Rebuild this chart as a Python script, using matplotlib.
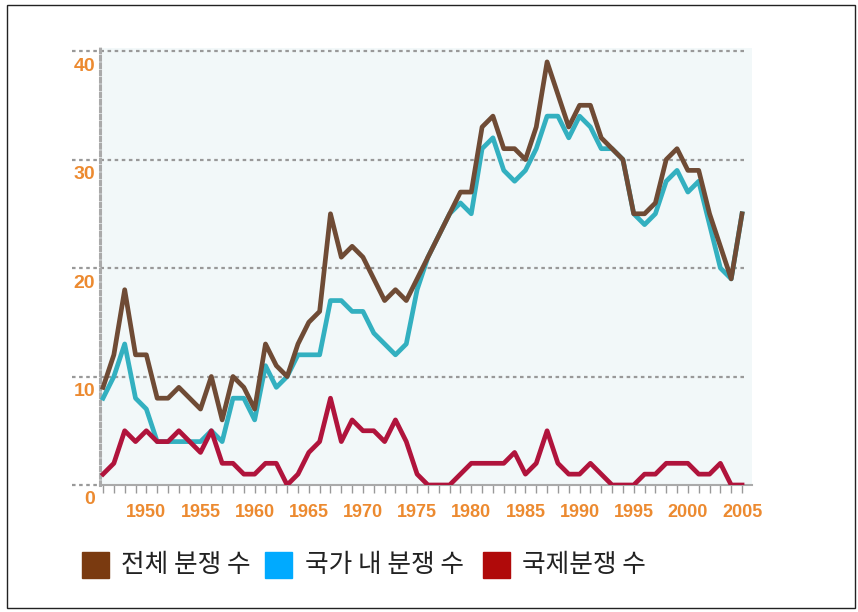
import matplotlib
matplotlib.use("Agg")
import matplotlib.pyplot as plt
from matplotlib.patches import Rectangle
from matplotlib.transforms import blended_transform_factory, ScaledTranslation

plt.rcParams['font.family'] = ['Liberation Sans', 'Noto Sans CJK KR', 'DejaVu Sans']

years = list(range(1946, 2006))
total = [9, 12, 18, 12, 12, 8, 8, 9, 8, 7,
         10, 6, 10, 9, 7, 13, 11, 10, 13, 15,
         16, 25, 21, 22, 21, 19, 17, 18, 17, 19,
         21, 23, 25, 27, 27, 33, 34, 31, 31, 30,
         33, 39, 36, 33, 35, 35, 32, 31, 30, 25,
         25, 26, 30, 31, 29, 29, 25, 22, 19, 25]
internal = [8, 10, 13, 8, 7, 4, 4, 4, 4, 4,
            5, 4, 8, 8, 6, 11, 9, 10, 12, 12,
            12, 17, 17, 16, 16, 14, 13, 12, 13, 18,
            21, 23, 25, 26, 25, 31, 32, 29, 28, 29,
            31, 34, 34, 32, 34, 33, 31, 31, 30, 25,
            24, 25, 28, 29, 27, 28, 24, 20, 19, 25]
international = [1, 2, 5, 4, 5, 4, 4, 5, 4, 3,
                 5, 2, 2, 1, 1, 2, 2, 0, 1, 3,
                 4, 8, 4, 6, 5, 5, 4, 6, 4, 1,
                 0, 0, 0, 1, 2, 2, 2, 2, 3, 1,
                 2, 5, 2, 1, 1, 2, 1, 0, 0, 0,
                 1, 1, 2, 2, 2, 1, 1, 2, 0, 0]
ytick_vals = [0, 10, 20, 30, 40]
legend_labels = ['전체 분쟁 수', '국가 내 분쟁 수', '국제분쟁 수']

W, H = 858, 612
fig = plt.figure(figsize=(W / 100, H / 100), dpi=100)
ax = fig.add_axes([100 / W, 127 / H, 652 / W, 437 / H])
ax.set_facecolor('#f2f8f9')
ax.set_xlim(1945.72, 2005.92)
ax.set_ylim(0, 40.28)

line_colors = ['#6f4b35', '#33b0c0', '#b0143c']
ax.plot(years, internal, color=line_colors[1], lw=3.4, zorder=3)
ax.plot(years, total, color=line_colors[0], lw=3.4, zorder=4)
ax.plot(years, international, color=line_colors[2], lw=3.4, zorder=5)

# grid lines (extend left beyond axes)
bt = blended_transform_factory(ax.transAxes, ax.transData)
for v in ytick_vals[1:]:
    ax.plot([-0.043, 0.99], [v, v], transform=bt,
            color='#999999', lw=1.6, ls=(0, (1.6, 1.6)), clip_on=False, zorder=2)
ax.plot([-0.043, 0.0], [0, 0], transform=bt,
        color='#999999', lw=1.6, ls=(0, (1.6, 1.6)), clip_on=False, zorder=2)

for s in ['top', 'right']:
    ax.spines[s].set_visible(False)
ax.spines['left'].set_color('#aaaaaa')
ax.spines['left'].set_linestyle((0, (1.2, 1.2)))
ax.spines['left'].set_linewidth(2.2)
ax.spines['bottom'].set_color('#aaaaaa')
ax.spines['bottom'].set_linewidth(1.5)

ax.set_xticks(years)
ax.set_xticklabels([str(y) if y % 5 == 0 else '' for y in years])
ax.tick_params(axis='x', direction='out', length=5.5, width=1, color='#999999',
               labelsize=13, labelcolor='#ec8a30', pad=8)
for t in ax.get_xticklabels():
    t.set_fontweight('bold')
ax.set_yticks([])

tr = bt + ScaledTranslation(-0.05, -0.15, fig.dpi_scale_trans)
for v in ytick_vals:
    ax.text(0, v, str(v), transform=tr, ha='right', va='center', fontsize=14,
            fontweight='bold', color='#ec8a30')

# legend
legend_colors = ['#7a3a10', '#00aaff', '#b00a0a']
patch_x = [82, 265, 483]
text_x = [121, 305, 522]
for px, tx, c, lab in zip(patch_x, text_x, legend_colors, legend_labels):
    fig.patches.append(Rectangle((px / W, (612 - 578) / H), 27 / W, 26 / H,
                                 transform=fig.transFigure, color=c))
    fig.text(tx / W, (612 - 565) / H, lab, ha='left', va='center', fontsize=18.5,
             family=['Noto Sans CJK KR', 'DejaVu Sans'], color='#222222')

# frame
fig.patches.append(Rectangle((7 / W, 4 / H), 848 / W, 603 / H, transform=fig.transFigure,
                             fill=False, edgecolor='#222222', lw=1))

fig.savefig('out.png', dpi=100)
